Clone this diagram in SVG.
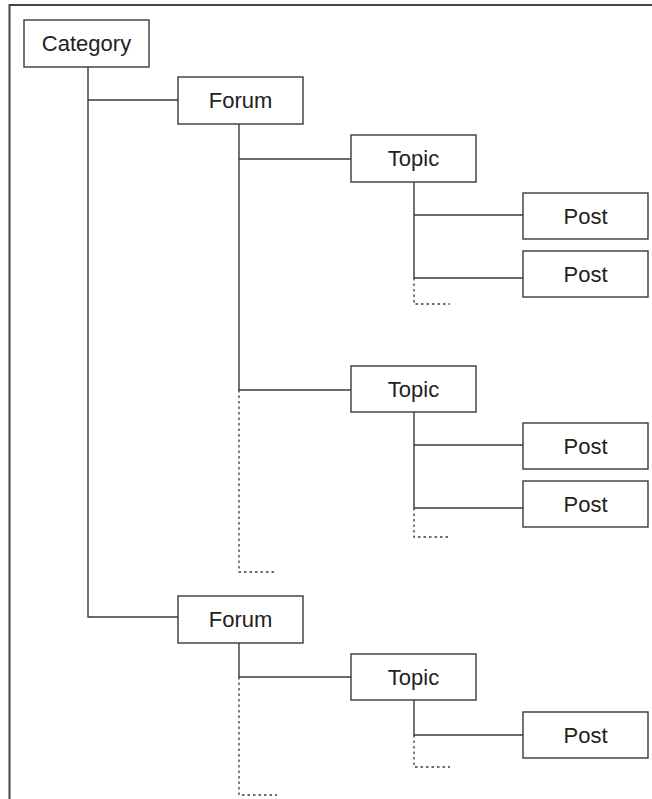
<svg xmlns="http://www.w3.org/2000/svg" width="652" height="799" viewBox="0 0 652 799">
  <style>
    .box { fill: #fff; stroke: #3a3a3a; stroke-width: 1.4; }
    .label { font-family: "Liberation Sans", Arial, sans-serif; font-size: 22px; fill: #222; text-anchor: middle; }
    .link { fill: none; stroke: #3a3a3a; stroke-width: 1.4; }
    .more { fill: none; stroke: #3a3a3a; stroke-width: 1.3; stroke-dasharray: 2.5 3; }
    .frame { fill: none; stroke: #444; stroke-width: 2; }
  </style>
  <rect width="652" height="799" fill="#fff"/>
  <!-- frame: top and left edges only -->
  <path class="frame" d="M9.5 799 V5 H652"/>

  <g id="connectors">
    <!-- Category -> Forums -->
    <path class="link" d="M88 67 V617 H178 M88 100 H178"/>
    <!-- Forum 1 -> Topics -->
    <path class="link" d="M239 124 V390 H351 M239 159 H351"/>
    <path class="more" d="M239 390 V572 H277"/>
    <!-- Topic 1 -> Posts -->
    <path class="link" d="M414 182 V278 H523 M414 215 H523"/>
    <path class="more" d="M414 278 V304 H450"/>
    <!-- Topic 2 -> Posts -->
    <path class="link" d="M414 412 V508 H523 M414 445 H523"/>
    <path class="more" d="M414 508 V537 H450"/>
    <!-- Forum 2 -> Topic -->
    <path class="link" d="M239 643 V677 H351"/>
    <path class="more" d="M239 677 V795 H277"/>
    <!-- Topic 3 -> Post -->
    <path class="link" d="M414 700 V735 H523"/>
    <path class="more" d="M414 735 V767 H450"/>
  </g>

  <g id="category">
    <rect class="box" x="24" y="20" width="125" height="47"/>
    <text class="label" x="86.5" y="51">Category</text>
  </g>
  <g id="forum1">
    <rect class="box" x="178" y="77" width="125" height="47"/>
    <text class="label" x="240.5" y="108">Forum</text>
  </g>
  <g id="topic1">
    <rect class="box" x="351" y="135" width="125" height="47"/>
    <text class="label" x="413.5" y="166">Topic</text>
  </g>
  <g id="post1">
    <rect class="box" x="523" y="193" width="125" height="46"/>
    <text class="label" x="585.5" y="223.5">Post</text>
  </g>
  <g id="post2">
    <rect class="box" x="523" y="251" width="125" height="46"/>
    <text class="label" x="585.5" y="281.5">Post</text>
  </g>
  <g id="topic2">
    <rect class="box" x="351" y="366" width="125" height="46"/>
    <text class="label" x="413.5" y="396.5">Topic</text>
  </g>
  <g id="post3">
    <rect class="box" x="523" y="423" width="125" height="46"/>
    <text class="label" x="585.5" y="453.5">Post</text>
  </g>
  <g id="post4">
    <rect class="box" x="523" y="481" width="125" height="46"/>
    <text class="label" x="585.5" y="511.5">Post</text>
  </g>
  <g id="forum2">
    <rect class="box" x="178" y="596" width="125" height="47"/>
    <text class="label" x="240.5" y="627">Forum</text>
  </g>
  <g id="topic3">
    <rect class="box" x="351" y="654" width="125" height="46"/>
    <text class="label" x="413.5" y="684.5">Topic</text>
  </g>
  <g id="post5">
    <rect class="box" x="523" y="712" width="125" height="46"/>
    <text class="label" x="585.5" y="742.5">Post</text>
  </g>
</svg>
